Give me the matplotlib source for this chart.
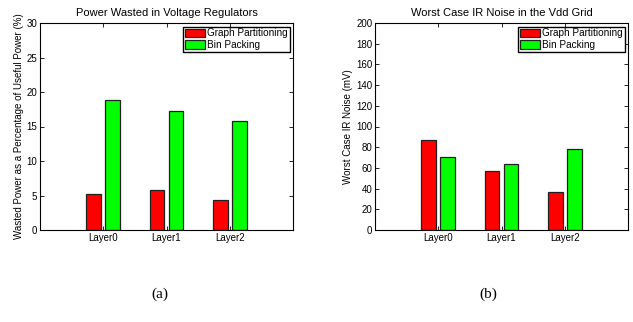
import matplotlib
matplotlib.use("Agg")
import matplotlib.pyplot as plt
import numpy as np

plt.rcParams['font.family'] = ['Liberation Sans', 'DejaVu Sans']

categories = ["Layer0", "Layer1", "Layer2"]
series_names = ["Graph Partitioning", "Bin Packing"]
power_gp = [5.2, 5.8, 4.3]
power_bp = [18.9, 17.3, 15.8]
noise_gp = [87, 57, 37]
noise_bp = [71, 64, 78]
power_yticks = [0, 5, 10, 15, 20, 25, 30]
noise_yticks = [0, 20, 40, 60, 80, 100, 120, 140, 160, 180, 200]

fig = plt.figure(figsize=(6.33, 3.22), dpi=100)
W, H = 633, 322

def make_ax(x0, x1, y0, y1):
    return fig.add_axes([x0 / W, 1 - y1 / H, (x1 - x0) / W, (y1 - y0) / H])

def draw(ax, gp, bp, yticks, title, ylabel):
    x = np.arange(1, len(categories) + 1)
    w = 0.23
    ax.bar(x - 0.15, gp, w, color='#ff0000', edgecolor='#202020', linewidth=0.9, label=series_names[0])
    ax.bar(x + 0.15, bp, w, color='#00ff00', edgecolor='#202020', linewidth=0.9, label=series_names[1])
    ax.set_xlim(0, 4)
    ax.set_ylim(yticks[0], yticks[-1])
    ax.set_xticks(x)
    ax.set_xticklabels(categories, fontsize=7)
    ax.set_yticks(yticks)
    ax.tick_params(axis='y', labelsize=7)
    ax.tick_params(direction='in', top=True, right=True, length=3, width=0.6, pad=2)
    for s in ax.spines.values():
        s.set_linewidth(0.8)
    ax.set_title(title, fontsize=8, pad=5)
    ax.set_ylabel(ylabel, fontsize=7, labelpad=2)
    leg = ax.legend(loc='upper right', fontsize=7.2, fancybox=False, framealpha=1,
                    edgecolor='black', borderpad=0.2, handlelength=2.0, handleheight=0.9,
                    handletextpad=0.2, labelspacing=0.15, borderaxespad=0.35)
    leg.get_frame().set_linewidth(1.0)

ax1 = make_ax(40, 293, 23, 230)
draw(ax1, power_gp, power_bp, power_yticks, "Power Wasted in Voltage Regulators",
     "Wasted Power as a Percentage of Useful Power (%)")
ax2 = make_ax(375, 628, 23, 230)
draw(ax2, noise_gp, noise_bp, noise_yticks, "Worst Case IR Noise in the Vdd Grid",
     "Worst Case IR Noise (mV)")

fig.text(160 / W, 1 - 294 / H, "(a)", ha='center', va='center', fontsize=11, family='Liberation Serif')
fig.text(488 / W, 1 - 294 / H, "(b)", ha='center', va='center', fontsize=11, family='Liberation Serif')

fig.savefig("out.png", dpi=100)
